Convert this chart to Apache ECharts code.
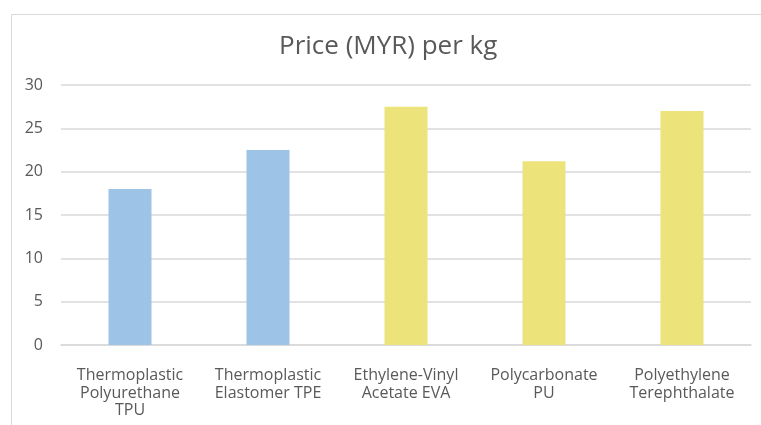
<!DOCTYPE html>
<html>
<head>
<meta charset="utf-8">
<script src="https://cdn.jsdelivr.net/npm/echarts@6/dist/echarts.min.js"></script>
<style>
  html, body { margin: 0; padding: 0; background: #fff; }
  #chart { width: 761px; height: 425px; }
</style>
</head>
<body>
<div id="chart"></div>
<script>
// Material names shown under each bar
const materials = [
  'Thermoplastic\nPolyurethane\nTPU',
  'Thermoplastic\nElastomer TPE',
  'Ethylene-Vinyl\nAcetate EVA',
  'Polycarbonate\nPU',
  'Polyethylene\nTerephthalate'
];
// Price per kilogram in Malaysian ringgit
const pricePerKg = [18, 22.5, 27.5, 21.2, 27];
// Value axis ticks
const yTicks = [0, 5, 10, 15, 20, 25, 30];

const BLUE = '#9DC3E6';
const YELLOW = '#ECE37B';
const TEXT = '#595959';
const FONT = '"Open Sans", "Liberation Sans", sans-serif';

const chart = echarts.init(document.getElementById('chart'), null, { renderer: 'canvas' });

chart.setOption({
  animation: false,
  backgroundColor: '#ffffff',
  title: {
    text: 'Price (MYR) per kg',
    left: 279,
    top: 34,
    padding: 0,
    textStyle: { color: TEXT, fontSize: 26, fontWeight: 'normal', fontFamily: FONT }
  },
  graphic: [{
    type: 'rect',
    left: 9, top: 12,
    shape: { width: 800, height: 411 },
    style: { fill: 'none', stroke: '#d9d9d9', lineWidth: 1 },
    silent: true
  }],
  grid: { left: 61, right: 10, top: 85, bottom: 80, containLabel: false },
  xAxis: {
    type: 'category',
    data: materials,
    axisLine: { lineStyle: { color: '#d9d9d9', width: 1.5 } },
    axisTick: { show: false },
    axisLabel: {
      interval: 0,
      color: TEXT,
      fontSize: 16,
      fontFamily: FONT,
      lineHeight: 17.5,
      margin: 22
    }
  },
  yAxis: {
    type: 'value',
    min: yTicks[0],
    max: yTicks[yTicks.length - 1],
    interval: yTicks[1] - yTicks[0],
    axisLine: { show: false },
    axisTick: { show: false },
    splitLine: { lineStyle: { color: '#d9d9d9', width: 1.5 } },
    axisLabel: { color: TEXT, fontSize: 16, fontFamily: FONT, margin: 18 }
  },
  series: [{
    type: 'bar',
    barWidth: 43,
    data: pricePerKg.map((v, i) => ({
      value: v,
      itemStyle: { color: i < 2 ? BLUE : YELLOW }
    }))
  }]
});
</script>
</body>
</html>
